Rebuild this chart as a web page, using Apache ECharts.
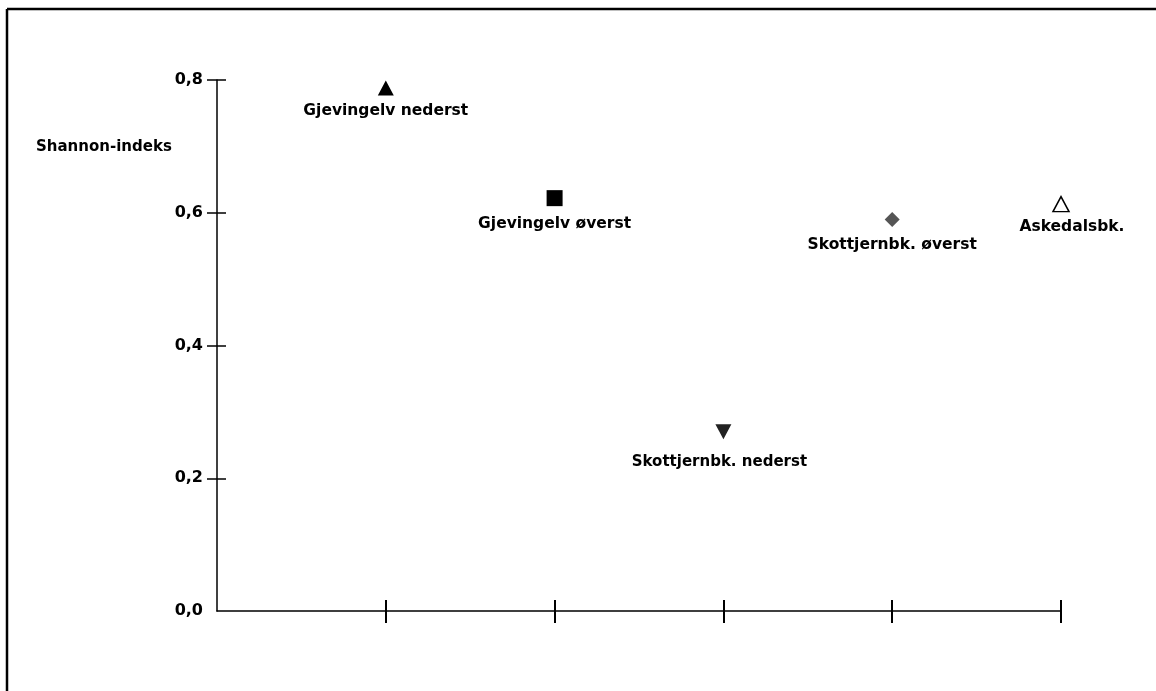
<!DOCTYPE html>
<html>
<head>
<meta charset="utf-8">
<script src="https://cdn.jsdelivr.net/npm/echarts@6/dist/echarts.min.js"></script>
<style>html,body{margin:0;padding:0;background:#fff}#c{width:1156px;height:691px}</style>
</head>
<body>
<div id="c"></div>
<script>
const siteNames = ['Gjevingelv nederst','Gjevingelv øverst','Skottjernbk. nederst','Skottjernbk. øverst','Askedalsbk.'];
const xPositions = [1, 2, 3, 4, 5];
const shannonValues = [0.788, 0.622, 0.27, 0.59, 0.613];
const yTickValues = [0.2, 0.4, 0.6, 0.8];
const xTickValues = [1, 2, 3, 4, 5];
const yAxisName = 'Shannon-indeks';

const symbols = ['triangle','rect','triangle','diamond','triangle'];
const rotations = [0, 0, 180, 0, 0];
const sizes = [[16,15],[16,16],[16,15],[15,15],[16,15]];
const fills = ['#000','#000','#222','#555','#fff'];
const labelDist = [8, 10, 15, 10, 7];
const labelShift = [0, 0, -4, 0, 11];

const font = '"DejaVu Sans", "Liberation Sans", Arial, sans-serif';
const chart = echarts.init(document.getElementById('c'), null, {renderer:'canvas'});

const series = siteNames.map((n, i) => ({
  type: 'scatter',
  name: n,
  xAxisIndex: 0, yAxisIndex: 0,
  symbol: symbols[i],
  symbolRotate: rotations[i],
  symbolSize: sizes[i],
  itemStyle: {color: fills[i], borderColor: '#000', borderWidth: i === 4 ? 1.5 : 0, opacity: 1},
  label: {show: true, position: 'bottom', distance: labelDist[i], offset: [labelShift[i], 0], formatter: n,
    color: '#000', fontFamily: font, fontWeight: 'bold', fontSize: i === 2 ? 15 : 15.5},
  emphasis: {disabled: true},
  data: [[xPositions[i], shannonValues[i]]]
}));

const axisLineStyle = {color: '#000', width: 1.5};
chart.setOption({
  animation: false,
  grid: {left: 217, right: 95, top: 80, bottom: 80},
  xAxis: [
    {type: 'value', min: 0, max: 5, interval: 1, position: 'bottom',
     axisLine: {show: true, lineStyle: axisLineStyle},
     axisTick: {show: true, inside: false, length: 12, customValues: xTickValues, lineStyle: {color:'#000', width: 2}},
     axisLabel: {show: false}, splitLine: {show: false}},
    {type: 'value', min: 0, max: 5, interval: 1, position: 'bottom', gridIndex: 0,
     axisLine: {show: false},
     axisTick: {show: true, inside: true, length: 11, customValues: xTickValues, lineStyle: {color:'#000', width: 2}},
     axisLabel: {show: false}, splitLine: {show: false}}
  ],
  yAxis: [
    {type: 'value', min: 0, max: 0.8, interval: 0.2, position: 'left',
     axisLine: {show: true, lineStyle: axisLineStyle},
     axisTick: {show: true, inside: false, length: 10, customValues: yTickValues, lineStyle: {color:'#000', width: 1.5}},
     axisLabel: {show: true, margin: 14, color: '#000', fontFamily: font, fontWeight: 'bold', fontSize: 16,
       formatter: v => v.toFixed(1).replace('.', ',')},
     splitLine: {show: false}},
    {type: 'value', min: 0, max: 0.8, interval: 0.2, position: 'left', gridIndex: 0,
     axisLine: {show: false},
     axisTick: {show: true, inside: true, length: 9, customValues: yTickValues, lineStyle: {color:'#000', width: 1.5}},
     axisLabel: {show: false}, splitLine: {show: false}}
  ],
  graphic: [
    {type: 'line', shape: {x1: 7, y1: 9, x2: 1156, y2: 9}, style: {stroke: '#000', lineWidth: 2.5}},
    {type: 'line', shape: {x1: 7, y1: 9, x2: 7, y2: 691}, style: {stroke: '#000', lineWidth: 2.5}},
    {type: 'text', left: 36, top: 140, style: {text: yAxisName, fill: '#000', font: 'bold 15px ' + font}}
  ],
  series: series
});
</script>
</body>
</html>
